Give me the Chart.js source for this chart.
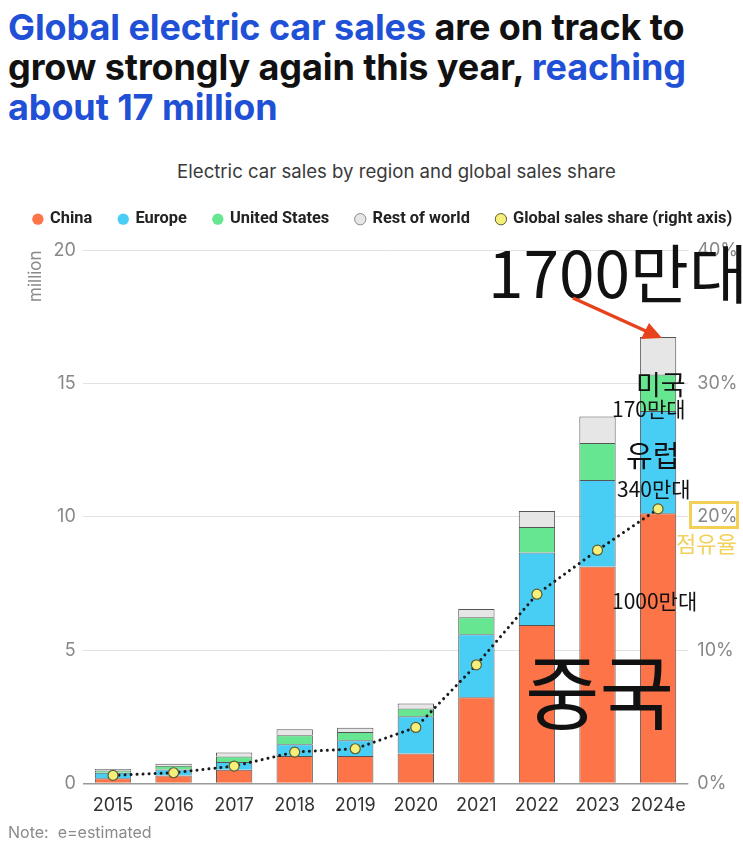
<!DOCTYPE html>
<html>
<head>
<meta charset="utf-8">
<script src="https://cdn.jsdelivr.net/npm/chart.js@4.4.1/dist/chart.umd.min.js"></script>
<style>
  html, body { margin:0; padding:0; background:#fff; }
  body { width:743px; height:854px; position:relative; overflow:hidden; font-family: Inter, "Noto Sans", sans-serif; }
  #title { position:absolute; left:8px; top:7px; font-family: Inter, sans-serif; font-weight:700; font-size:36px; line-height:40px; color:#111; letter-spacing:-0.1px; white-space:nowrap; }
  #title .b { color:#1f50d6; }
  #sub { position:absolute; left:0; width:793px; top:159px; text-align:center; font-size:18.6px; color:#3a3a3a; line-height:24px; }
  #wrap { position:absolute; left:0; top:184px; width:743px; height:639px; }
  #note { position:absolute; left:8px; top:822px; font-size:16px; color:#8a8a8a; line-height:20px; white-space:pre; }
  .ann { position:absolute; font-family:"Noto Sans CJK KR", sans-serif; color:#111; white-space:nowrap; line-height:1; }
  #box20 { position:absolute; left:689px; top:501px; width:44px; height:22px; border:3px solid #f2cf55; }
  svg { position:absolute; left:0; top:0; }
</style>
</head>
<body>
<div id="title"><span class="b">Global electric car sales</span> are on track to<br>grow strongly again this year, <span class="b">reaching</span><br><span class="b">about 17 million</span></div>
<div id="sub">Electric car sales by region and global sales share</div>
<div id="wrap"><canvas id="c" width="743" height="639"></canvas></div>
<div id="note">Note:  e=estimated</div>

<div id="box20"></div>
<div class="ann" style="left:488px; top:238px; font-size:64px;">1700만대</div>
<div class="ann" style="left:636px; top:370px; font-size:27px;">미국</div>
<div class="ann" style="left:612px; top:398px; font-size:21px;">170만대</div>
<div class="ann" style="left:626px; top:440px; font-size:29px;">유럽</div>
<div class="ann" style="left:617px; top:478px; font-size:21px;">340만대</div>
<div class="ann" style="left:676px; top:531px; font-size:22px; color:#f3d15d;">점유율</div>
<div class="ann" style="left:612px; top:590px; font-size:21px;">1000만대</div>
<div class="ann" style="left:525px; top:647px; font-size:81px;">중국</div>
<svg width="743" height="854">
  <line x1="573" y1="298" x2="648" y2="332" stroke="#e8421d" stroke-width="3.5"/>
  <polygon points="662,338 641,339 649,323" fill="#e8421d"/>
</svg>

<script>
const years = ['2015','2016','2017','2018','2019','2020','2021','2022','2023','2024e'];
const china = [0.19, 0.30, 0.51, 1.03, 1.03, 1.12, 3.23, 5.94, 8.14, 10.14];
const europe = [0.21, 0.22, 0.29, 0.44, 0.59, 1.40, 2.37, 2.72, 3.24, 3.83];
const unitedStates = [0.08, 0.14, 0.21, 0.34, 0.31, 0.29, 0.63, 0.96, 1.39, 1.37];
const restOfWorld = [0.06, 0.08, 0.15, 0.22, 0.16, 0.19, 0.31, 0.60, 1.00, 1.41];
const globalShare = [0.6, 0.8, 1.3, 2.35, 2.6, 4.2, 8.9, 14.2, 17.5, 20.6];
const leftTicks = [0, 5, 10, 15, 20];
const rightTicks = [0, 10, 20, 30, 40];

const barBorder = '#555555';
function bar(label, data, color) {
  return { type:'bar', label, data, backgroundColor:color, borderColor:barBorder, borderWidth:1,
           yAxisID:'y', order:1, barPercentage:0.6, categoryPercentage:1.0 };
}

const legendSpacer = {
  id:'legendSpacer',
  beforeInit(chart) {
    const lg = chart.legend;
    const origFit = lg.fit;
    lg.fit = function() {
      const mw = this.maxWidth;
      this.maxWidth = mw + 60;
      origFit.call(this);
      this.maxWidth = mw;
      this.width = Math.min(this.width, mw);
      this.height += 13;
    };
    const origDraw = lg.draw;
    lg.draw = function() {
      const l = this.left, r = this.right;
      this.left = l - 30; this.right = r + 30;
      origDraw.call(this);
      this.left = l; this.right = r;
    };
  }
};

new Chart(document.getElementById('c'), {
  plugins:[legendSpacer],
  data: {
    labels: years,
    datasets: [
      bar('China', china, '#fc7448'),
      bar('Europe', europe, '#48cdf5'),
      bar('United States', unitedStates, '#66e691'),
      bar('Rest of world', restOfWorld, '#e6e6e6'),
      { type:'line', label:'Global sales share (right axis)', data:globalShare, yAxisID:'y1', order:0,
        borderColor:'#1a1a1a', borderWidth:3, borderDash:[0.01, 6], borderCapStyle:'round',
        backgroundColor:'#f6f07a', pointBackgroundColor:'#f6f07a', pointBorderColor:'#5c5c30',
        pointBorderWidth:1.2, pointRadius:5, tension:0, fill:false }
    ]
  },
  options: {
    responsive:false, animation:false, devicePixelRatio:1,
    layout: { padding: { left:19, right:-4, top:0, bottom:4 } },
    plugins: {
      tooltip: { enabled:false },
      legend: {
        position:'top',
        labels: {
          usePointStyle:true, pointStyle:'circle', boxWidth:8, boxHeight:8, padding:27,
          color:'#222', font:{ family:'Roboto', weight:'bold', size:16.4 },
          sort:(a,b)=>a.datasetIndex-b.datasetIndex,
          generateLabels:(chart)=>{
            const items = Chart.defaults.plugins.legend.labels.generateLabels(chart);
            items.forEach(it=>{
              it.lineDash = [];
              it.pointStyle = 'circle';
              if (it.datasetIndex === 4) { it.fillStyle = '#f6f07a'; it.strokeStyle = '#5c5c30'; it.lineWidth = 1; }
              else if (it.datasetIndex === 3) { it.strokeStyle = '#8a8a8a'; it.lineWidth = 1; }
              else { it.strokeStyle = it.fillStyle; it.lineWidth = 0; }
            });
            return items;
          }
        }
      }
    },
    scales: {
      x: {
        stacked:true,
        grid:{ display:false },
        border:{ display:false },
        ticks:{ color:'#333', font:{ family:'Inter', size:18 }, padding:3, maxRotation:0, minRotation:0, autoSkip:false }
      },
      y: {
        stacked:true, position:'left', min:0, max:20,
        afterBuildTicks:(s)=>{ s.ticks = leftTicks.map(v=>({value:v})); },
        grid:{ color:(ctx)=> ctx.tick && ctx.tick.value===0 ? '#9a9a9a' : '#e2e2e2', lineWidth:(ctx)=> ctx.tick && ctx.tick.value===0 ? 1.5 : 1, drawTicks:false },
        border:{ display:false },
        ticks:{ color:'#888', font:{ family:'Inter', size:18 }, padding:7 },
        title:{ display:true, text:'million', align:'end', color:'#8a8a8a', font:{ family:'Inter', size:17 }, padding:{ top:7, bottom:0 } }
      },
      y1: {
        position:'right', min:0, max:40,
        afterBuildTicks:(s)=>{ s.ticks = rightTicks.map(v=>({value:v})); },
        grid:{ display:false, drawTicks:false },
        border:{ display:false },
        ticks:{ color:'#888', font:{ family:'Inter', size:18 }, padding:9, callback:(v)=> v + '%' }
      }
    }
  }
});
</script>
</body>
</html>
